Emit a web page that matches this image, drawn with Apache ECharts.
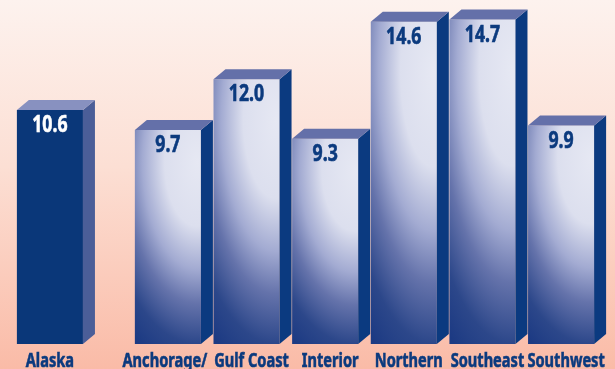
<!DOCTYPE html>
<html>
<head>
<meta charset="utf-8">
<script src="https://cdn.jsdelivr.net/npm/echarts@6/dist/echarts.min.js"></script>
<style>
  html, body { margin: 0; padding: 0; }
  #chart { width: 615px; height: 369px; }
</style>
</head>
<body>
<div id="chart"></div>
<script>
// Statewide figure followed by the six regions
const regions = ['Alaska', 'Anchorage/', 'Gulf Coast', 'Interior', 'Northern', 'Southeast', 'Southwest'];
const values = [10.6, 9.7, 12.0, 9.3, 14.6, 14.7, 9.9];
const valueLabels = ['10.6', '9.7', '12.0', '9.3', '14.6', '14.7', '9.9'];

// The statewide bar stands alone; regions start after a half-slot gap
const slotOf = i => (i === 0 ? 0 : i + 0.5);

const FONT = "'Noto Sans', 'Open Sans', sans-serif";
const CONDENSE_VALUE = 0.77; // horizontal squeeze giving a condensed bold face
const CONDENSE_NAME = 0.73;
const NAVY = '#0b3a7e';
const DEPTH_X = 12;
const DEPTH_Y = 10;
const ELLIPSE_W = 0.6; // horizontal squeeze of the shaded face

// category names sit slightly right of the bar face (under face + side);
// the long first region name is pulled left so it clears its neighbour
function labelNudge(i) {
  if (i === 0) return 0;
  if (i === 1) return -3;
  return 5;
}

const chart = echarts.init(document.getElementById('chart'), null, { renderer: 'canvas' });

function faceShading() {
  // radial shading drawn in a unit box, stretched to the bar afterwards
  return new echarts.graphic.RadialGradient(0.95 * ELLIPSE_W, 0.15, 1, [
    { offset: 0, color: '#e6e8f3' },
    { offset: 0.3, color: '#dcdfee' },
    { offset: 0.5, color: '#a3abd2' },
    { offset: 0.66, color: '#6573ab' },
    { offset: 0.85, color: '#2c478a' },
    { offset: 1, color: '#1c3a83' }
  ], true);
}

function renderBar(params, api) {
  const i = params.dataIndex;
  const slot = api.value(0);
  const val = api.value(1);
  const top = api.coord([slot, val]);
  const base = api.coord([slot, 0]);
  const w = api.size([1, 0])[0] * 0.84;
  const x0 = top[0] - w / 2;
  const x1 = top[0] + w / 2;
  const yt = top[1];
  const yb = base[1];
  const h = yb - yt;
  const isState = i === 0;
  const valueColor = isState ? '#ffffff' : NAVY;

  const front = isState
    ? { type: 'rect', shape: { x: x0, y: yt, width: w, height: h }, style: { fill: '#0a3779' } }
    : {
        type: 'rect',
        x: x0, y: yt,
        scaleX: w / ELLIPSE_W, scaleY: h,
        shape: { x: 0, y: 0, width: ELLIPSE_W, height: 1 },
        style: { fill: faceShading() }
      };

  return {
    type: 'group',
    children: [
      front,
      {
        type: 'polygon',
        shape: { points: [[x1, yt], [x1 + DEPTH_X, yt - DEPTH_Y], [x1 + DEPTH_X, yb - DEPTH_Y], [x1, yb]] },
        style: { fill: isState ? '#4b5e98' : '#0b3a80' }
      },
      {
        type: 'polygon',
        shape: { points: [[x0, yt], [x0 + DEPTH_X, yt - DEPTH_Y], [x1 + DEPTH_X, yt - DEPTH_Y], [x1, yt]] },
        style: { fill: isState ? '#8891c0' : '#6470a9' }
      },
      {
        type: 'text',
        x: top[0], y: yt + 4,
        scaleX: CONDENSE_VALUE,
        style: {
          text: valueLabels[i],
          fill: valueColor,
          stroke: valueColor,
          lineWidth: 0.6,
          font: 'bold 23px ' + FONT,
          align: 'center',
          verticalAlign: 'top'
        }
      },
      {
        type: 'text',
        x: top[0] + labelNudge(i), y: yb + 17,
        scaleX: CONDENSE_NAME,
        style: {
          text: regions[i],
          fill: NAVY,
          stroke: NAVY,
          lineWidth: 0.6,
          font: 'bold 20px ' + FONT,
          align: 'center',
          verticalAlign: 'middle'
        }
      }
    ]
  };
}

chart.setOption({
  animation: false,
  backgroundColor: new echarts.graphic.LinearGradient(0, 0, 0, 1, [
    { offset: 0, color: '#fdf2ee' },
    { offset: 0.45, color: '#fcdfd4' },
    { offset: 1, color: '#fabba7' }
  ]),
  grid: { left: 10.6, right: 14.6, top: 13, bottom: 25 },
  xAxis: { type: 'value', min: -0.5, max: 7, show: false },
  yAxis: { type: 'value', min: 0, max: 15, show: false },
  series: [{
    type: 'custom',
    clip: false,
    renderItem: renderBar,
    data: values.map((v, i) => [slotOf(i), v])
  }]
});
</script>
</body>
</html>
